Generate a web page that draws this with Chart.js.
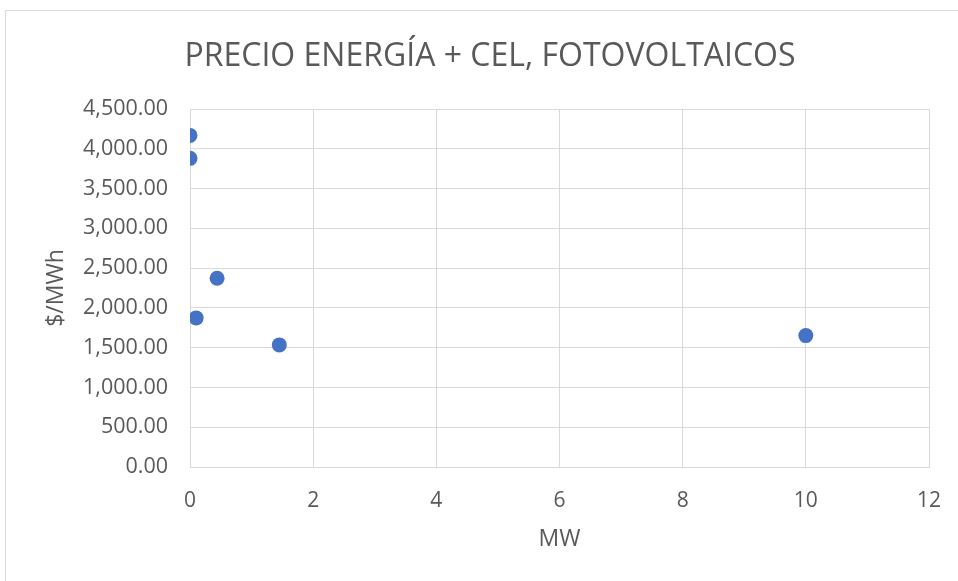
<!DOCTYPE html>
<html>
<head>
<meta charset="utf-8">
<script src="https://cdn.jsdelivr.net/npm/chart.js@4"></script>
<style>
  html, body { margin: 0; padding: 0; background: #fff; }
  #wrap { position: relative; width: 958px; height: 581px; }
  #frame { position: absolute; left: 5px; top: 10px; width: 960px; height: 580px;
           border-left: 1px solid #d9d9d9; border-top: 1px solid #d9d9d9; }
  canvas { position: absolute; left: 0; top: 0; }
</style>
</head>
<body>
<div id="wrap">
  <div id="frame"></div>
  <canvas id="chart" width="958" height="581"></canvas>
</div>
<script>
/* ── Data ─────────────────────────────────────────────── */
const mwValues    = [0, 0, 0.44, 0.1, 1.45, 10];
const priceValues = [4168, 3880, 2372, 1874, 1535, 1652];
const xTicks = [0, 2, 4, 6, 8, 10, 12];
const yTicks = [0, 500, 1000, 1500, 2000, 2500, 3000, 3500, 4000, 4500];

const TEXT = '#595959';
const GRID = '#d9d9d9';
const FONT = "'Open Sans', sans-serif";

const points = mwValues.map((x, i) => ({ x, y: priceValues[i] }));

new Chart(document.getElementById('chart'), {
  type: 'scatter',
  data: {
    datasets: [{
      data: points,
      backgroundColor: '#4472c4',
      borderColor: '#4472c4',
      pointRadius: 7.5,
      pointHoverRadius: 7.5,
      borderWidth: 0
    }]
  },
  options: {
    responsive: false,
    animation: false,
    layout: { padding: { left: 22, right: 0, top: 0, bottom: 0 } },
    plugins: {
      legend: { display: false },
      tooltip: { enabled: false },
      title: {
        display: true,
        text: 'PRECIO ENERGÍA + CEL, FOTOVOLTAICOS',
        color: TEXT,
        font: { family: FONT, size: 32, weight: 'normal' },
        padding: { top: 38, bottom: 32.6 }
      }
    },
    scales: {
      x: {
        type: 'linear',
        min: 0, max: 12,
        afterBuildTicks: s => { s.ticks = xTicks.map(v => ({ value: v })); },
        // keep the plot's right edge at the same place as the reference
        afterFit: s => { s.height = 114; s.paddingLeft = 0; s.paddingRight = 29; },
        grid: { color: GRID, lineWidth: 1, drawTicks: false },
        border: { color: GRID },
        ticks: { color: TEXT, font: { family: FONT, size: 21 }, padding: 21 },
        title: { display: true, text: 'MW', color: TEXT, font: { family: FONT, size: 23 }, padding: { top: 0, bottom: 28 } }
      },
      y: {
        type: 'linear',
        min: 0, max: 4500,
        afterBuildTicks: s => { s.ticks = yTicks.map(v => ({ value: v })); },
        afterFit: s => { s.width = 168; s.paddingTop = 0; s.paddingBottom = 0; },
        grid: { color: GRID, lineWidth: 1, drawTicks: false },
        border: { color: GRID },
        ticks: {
          color: TEXT, font: { family: FONT, size: 21.5 }, padding: 22,
          callback: v => v.toLocaleString('en-US', { minimumFractionDigits: 2, maximumFractionDigits: 2 })
        },
        title: { display: true, text: '$/MWh', color: TEXT, font: { family: FONT, size: 23 }, padding: { top: 21, bottom: 0 } }
      }
    }
  }
});
</script>
</body>
</html>
